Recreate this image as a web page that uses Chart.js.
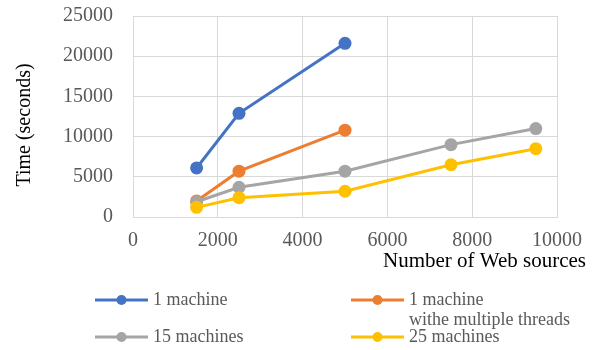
<!DOCTYPE html>
<html>
<head>
<meta charset="utf-8">
<script src="https://cdn.jsdelivr.net/npm/chart.js@4.4.1/dist/chart.umd.min.js"></script>
<style>
  html, body { margin: 0; padding: 0; background: #ffffff; }
  #wrap { position: relative; width: 597px; height: 350px; }
</style>
</head>
<body>
<div id="wrap"><canvas id="c" width="597" height="350"></canvas></div>
<script>
// Processing time vs number of Web sources
const seriesLabels = ['1 machine', ['1 machine', 'withe multiple threads'], '15 machines', '25 machines'];
const sourcesShort = [1500, 2500, 5000];
const sourcesLong = [1500, 2500, 5000, 7500, 9500];
const oneMachine = [6100, 12900, 21600];
const oneMachineThreads = [2000, 5700, 10800];
const fifteenMachines = [1900, 3700, 5700, 9000, 11000];
const twentyFiveMachines = [1200, 2400, 3200, 6500, 8500];
const xTicks = [0, 2000, 4000, 6000, 8000, 10000];
const yTicks = [0, 5000, 10000, 15000, 20000, 25000];
const xTitle = 'Number of Web sources';
const yTitle = 'Time (seconds)';

const colors = ['#4472C4', '#ED7D31', '#A5A5A5', '#FFC000'];
const serif = '"Liberation Serif", "Times New Roman", serif';

function pts(xs, ys) { return xs.map((x, i) => ({ x: x, y: ys[i] })); }

const seriesData = [
  pts(sourcesShort, oneMachine),
  pts(sourcesShort, oneMachineThreads),
  pts(sourcesLong, fifteenMachines),
  pts(sourcesLong, twentyFiveMachines)
];

const datasets = seriesData.map((d, i) => ({
  label: seriesLabels[i],
  data: d,
  borderColor: colors[i],
  backgroundColor: colors[i],
  pointBackgroundColor: colors[i],
  pointBorderColor: colors[i],
  borderWidth: 3,
  pointRadius: 6.5,
  pointHoverRadius: 6.5,
  pointBorderWidth: 0,
  tension: 0,
  order: 4 - i
}));

// Legend entries, axis titles drawn on the canvas
const decorations = {
  id: 'decorations',
  afterDraw(chart) {
    const ctx = chart.ctx;
    ctx.save();
    // y-axis title
    ctx.fillStyle = '#000000';
    ctx.font = '20px ' + serif;
    ctx.textAlign = 'center';
    ctx.textBaseline = 'middle';
    ctx.translate(25, 125);
    ctx.rotate(-Math.PI / 2);
    ctx.fillText(yTitle, 0, 0);
    ctx.restore();

    ctx.save();
    // x-axis title
    ctx.fillStyle = '#000000';
    ctx.font = '21px ' + serif;
    ctx.textAlign = 'right';
    ctx.textBaseline = 'alphabetic';
    ctx.fillText(xTitle, 586, 267);

    // legend
    const cols = [95, 351];
    const rows = [300, 337];
    chart.data.datasets.forEach((ds, i) => {
      const x0 = cols[i % 2];
      const y0 = rows[Math.floor(i / 2)];
      const len = 53;
      ctx.strokeStyle = ds.borderColor;
      ctx.lineWidth = 3;
      ctx.beginPath();
      ctx.moveTo(x0, y0);
      ctx.lineTo(x0 + len, y0);
      ctx.stroke();
      ctx.fillStyle = ds.borderColor;
      ctx.beginPath();
      ctx.arc(x0 + len / 2, y0, 5, 0, Math.PI * 2);
      ctx.fill();
      ctx.fillStyle = '#595959';
      ctx.font = '18px ' + serif;
      ctx.textAlign = 'left';
      ctx.textBaseline = 'middle';
      const lines = Array.isArray(ds.label) ? ds.label : [ds.label];
      lines.forEach((t, k) => ctx.fillText(t, x0 + len + 5, y0 + k * 20));
    });
    ctx.restore();
  }
};

const plain = v => String(v);

new Chart(document.getElementById('c'), {
  type: 'line',
  data: { datasets: datasets },
  options: {
    responsive: false,
    animation: false,
    layout: { padding: { left: 0, right: 40, top: 16, bottom: 0 } },
    plugins: { legend: { display: false }, tooltip: { enabled: false } },
    scales: {
      x: {
        type: 'linear',
        min: 0,
        max: 10000,
        afterFit(s) { s.height = 133; s.paddingLeft = 0; s.paddingRight = 0; s.paddingTop = 0; s.paddingBottom = 0; },
        afterBuildTicks(s) { s.ticks = xTicks.map(v => ({ value: v })); },
        grid: { color: '#D9D9D9', lineWidth: 1, drawTicks: false },
        border: { color: '#D9D9D9', width: 1 },
        ticks: { padding: 12, color: '#595959', font: { family: serif, size: 20 }, maxRotation: 0, autoSkip: false, callback: plain }
      },
      y: {
        type: 'linear',
        min: 0,
        max: 25000,
        afterFit(s) { s.width = 133; s.paddingLeft = 0; s.paddingRight = 0; s.paddingTop = 0; s.paddingBottom = 0; },
        afterBuildTicks(s) { s.ticks = yTicks.map(v => ({ value: v })); },
        grid: { color: '#D9D9D9', lineWidth: 1, drawTicks: false },
        border: { color: '#D9D9D9', width: 1 },
        ticks: { padding: 20, color: '#595959', font: { family: serif, size: 20 }, callback: plain }
      }
    }
  },
  plugins: [decorations]
});
</script>
</body>
</html>
